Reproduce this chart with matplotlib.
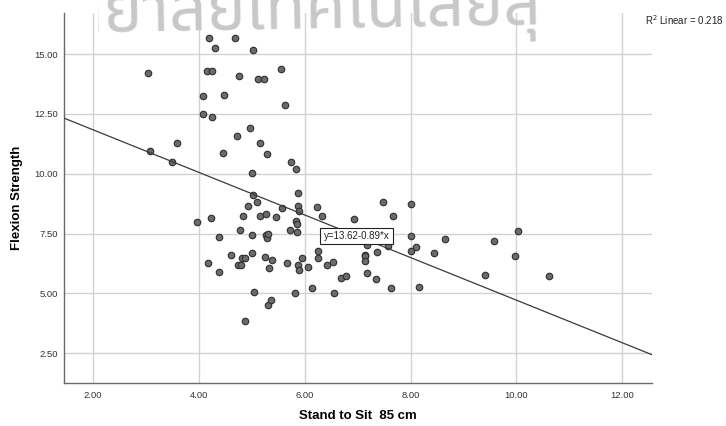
import matplotlib
matplotlib.use("Agg")
import matplotlib.pyplot as plt
from matplotlib import font_manager
from matplotlib.ft2font import FT2Font
from matplotlib.transforms import Bbox
import numpy as np

# Stand-to-sit time (85 cm) vs. flexion strength
stand_to_sit = [
    3.04, 3.08, 3.49, 3.59, 3.97, 4.08, 4.08, 4.15, 4.20, 4.24,
    4.25, 4.23, 4.18, 4.31, 4.39, 4.39, 4.45, 4.47, 4.61, 4.68,
    4.73, 4.76, 4.74, 4.78, 4.80, 4.81, 4.83, 4.87, 4.88, 4.93,
    4.96, 5.01, 5.01, 5.01, 5.02, 5.03, 5.04, 5.10, 5.12, 5.15,
    5.16, 5.23, 5.26, 5.26, 5.25, 5.28, 5.29, 5.30, 5.31, 5.33,
    5.37, 5.39, 5.46, 5.55, 5.58, 5.63, 5.66, 5.72, 5.74, 5.82,
    5.83, 5.84, 5.85, 5.86, 5.87, 5.88, 5.90, 5.88, 5.90, 5.94,
    6.06, 6.13, 6.23, 6.26, 6.25, 6.32, 6.42, 6.53, 6.56, 6.68,
    6.78, 6.93, 7.17, 7.13, 7.14, 7.14, 7.18, 7.35, 7.37, 7.47,
    7.58, 7.63, 7.66, 8.00, 8.01, 8.00, 8.10, 8.16, 8.44, 8.65,
    9.40, 9.58, 9.98, 10.03, 10.61,
]
flexion_strength = [
    14.19, 10.95, 10.49, 11.27, 8.00, 13.27, 12.50, 14.29, 15.67, 14.29,
    12.36, 8.17, 6.27, 15.25, 7.37, 5.89, 10.85, 13.31, 6.59, 15.67,
    11.57, 14.09, 6.20, 7.64, 6.21, 6.48, 8.23, 6.49, 3.85, 8.65,
    11.91, 10.03, 7.43, 6.68, 9.13, 15.17, 5.08, 8.84, 13.98, 11.27,
    8.24, 13.94, 8.32, 7.46, 6.54, 10.82, 7.30, 7.47, 4.51, 6.07,
    4.72, 6.39, 8.20, 14.39, 8.56, 12.89, 6.27, 7.64, 10.49, 5.00,
    10.20, 8.04, 7.56, 7.90, 9.18, 8.65, 8.45, 6.20, 5.99, 6.50,
    6.12, 5.21, 8.62, 6.79, 6.48, 8.24, 6.17, 6.33, 5.01, 5.66,
    5.74, 8.10, 7.02, 6.62, 6.55, 6.34, 5.84, 5.61, 6.74, 8.82,
    6.98, 5.24, 8.22, 8.73, 7.39, 6.77, 6.94, 5.27, 6.68, 7.29,
    5.78, 7.18, 6.58, 7.60, 5.71,
]

# Linear fit reported with the chart
fit_intercept = 13.62
fit_slope = -0.89
r_squared = 0.218

x_ticks = [2.0, 4.0, 6.0, 8.0, 10.0, 12.0]
y_ticks = [2.5, 5.0, 7.5, 10.0, 12.5, 15.0]
x_title = "Stand to Sit  85 cm"
y_title = "Flexion Strength"
watermark = "มหาวิทยาลัยเทคโนโลยีสุ"
watermark_lead = "มหาวิทยา"
watermark_span = "ลัยเทคโนโลยีสุ"

BASE_FONT = ["Liberation Sans", "DejaVu Sans"]
plt.rcParams["font.family"] = BASE_FONT

W, H = 726, 426
fig = plt.figure(figsize=(W / 100, H / 100), dpi=100)
fig.patch.set_facecolor("white")

left, right, top, bottom = 63.7, 652.0, 12.7, 383.0
ax = fig.add_axes([left / W, 1 - bottom / H, (right - left) / W, (bottom - top) / H])
ax.set_xlim(1.448, 12.56)
ax.set_ylim(1.26, 16.73)

ax.set_xticks(x_ticks)
ax.set_yticks(y_ticks)
ax.set_xticklabels([f"{v:.2f}" for v in x_ticks])
ax.set_yticklabels([f"{v:.2f}" for v in y_ticks])
ax.tick_params(length=0, labelsize=6.8, labelcolor="#333333")
ax.tick_params(axis="x", pad=6)
ax.tick_params(axis="y", pad=4)
ax.grid(True, color="#d2d2d2", linewidth=1.0, zorder=0)
ax.set_axisbelow(True)
for side in ("top", "right"):
    ax.spines[side].set_visible(False)
for side in ("left", "bottom"):
    ax.spines[side].set_color("#6a6a6a")
    ax.spines[side].set_linewidth(1.0)

ax.scatter(stand_to_sit, flexion_strength, s=22, facecolor="#6b6b6b",
           edgecolor="#2e2e2e", linewidth=0.8, zorder=3)

xs = np.array(ax.get_xlim())
ax.plot(xs, fit_intercept + fit_slope * xs, color="#3a3a3a", linewidth=0.9,
        zorder=4, solid_capstyle="butt")

ax.text(6.98, 7.40, f"y={fit_intercept:.2f}{fit_slope:.2f}*x",
        ha="center", va="center", fontsize=7, color="#222222", zorder=6,
        bbox=dict(boxstyle="square,pad=0.35", facecolor="white",
                  edgecolor="#222222", linewidth=0.8))

ax.set_xlabel(x_title, fontsize=9.5, fontweight="bold")
ax.set_ylabel(y_title, fontsize=9.5, fontweight="bold")
ax.xaxis.set_label_coords((357.9 - left) / (right - left), -(410 - bottom) / (bottom - top))
ax.yaxis.set_label_coords(-(left - 23) / (right - left), 0.5)

fig.text(724 / W, 1 - 20 / H, f"R$^2$ Linear = {r_squared:.3f}",
         ha="right", va="center", fontsize=7, color="#222222")

# Institutional watermark, drawn only if a font with Thai glyphs is present
candidates = []
for entry in font_manager.fontManager.ttflist:
    try:
        cmap = FT2Font(entry.fname).get_charmap()
    except Exception:
        continue
    if all(ord(ch) in cmap for ch in watermark):
        candidates.append(entry)

def preference(entry):
    name = entry.name
    order = ["Noto Sans Thai", "Kanit", "Prompt", "Sarabun", "Noto Sans Thai UI"]
    if name in order and "Looped" not in name:
        return (0, order.index(name))
    if "Looped" in name:
        return (2, 0)
    return (1, 0)

if candidates:
    candidates.sort(key=preference)
    thai_font = candidates[0].name
    renderer = fig.canvas.get_renderer()
    wm_style = dict(family=[thai_font], fontweight="bold")

    probe = fig.text(0, 0, watermark_span, fontsize=40, **wm_style)
    span_w = probe.get_window_extent(renderer).width
    probe.remove()
    wm_size = 40 * 372.0 / span_w

    probe = fig.text(0, 0, watermark_lead, fontsize=wm_size, **wm_style)
    lead_w = probe.get_window_extent(renderer).width
    probe.remove()

    x0 = 170.0 - lead_w
    wm = fig.text(x0 / W, 1 - 35 / H, watermark, fontsize=wm_size,
                  color="#c8c8c8", rotation=1, rotation_mode="anchor",
                  ha="left", va="baseline", zorder=10, **wm_style)
    wm.set_clip_box(Bbox.from_extents(98, 0, 550, H))
    wm.set_clip_on(True)

fig.savefig("out.png", dpi=100, facecolor="white")
